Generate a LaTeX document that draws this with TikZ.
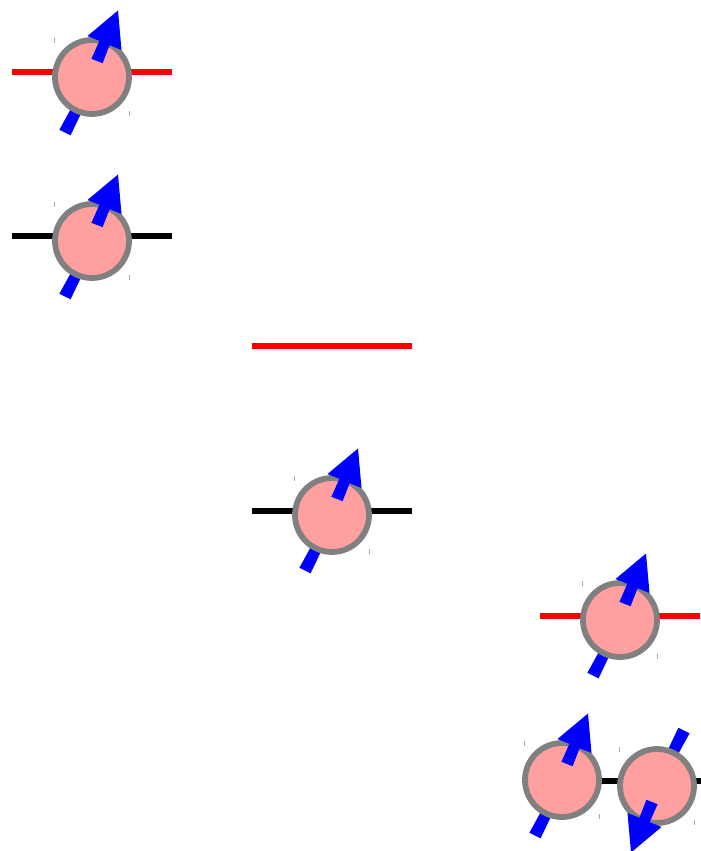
\documentclass[tikz,border=0pt]{standalone}
\definecolor{atomfill}{HTML}{FF9F9F}
\definecolor{tickgray}{HTML}{A8A8A8}
\tikzset{
  bond/.style={line width=5.6pt},
  redbond/.style={bond,red},
  blackbond/.style={bond,black},
  ball/.style={circle,draw=gray,fill=atomfill,line width=5.8pt,minimum size=74pt,inner sep=0pt,outer sep=0pt},
  spin/.style={fill=blue,draw=none},
  ticky/.style={draw=tickgray,line width=1pt}
}
% #1 name, #2 x, #3 y, #4 rotation of the spin
\newcommand{\atomdraw}[4]{%
  \begin{scope}[shift={(#2,#3)},rotate=#4]
    \fill[spin] (-32.6,52.7) -- (-21.4,58.3) -- (-11.4,37.3) -- (-21.6,32.7) -- cycle;
  \end{scope}
  \node[ball] (#1) at (#2,#3) {};
  \begin{scope}[shift={(#2,#3)},rotate=#4]
    \fill[spin] (-0.6,-18.2) -- (10.6,-13.8) -- (17.6,-31.8) -- (29.5,-27) -- (26,-66.5) -- (-4.5,-41) -- (7.4,-36.2) -- cycle;
  \end{scope}
  \begin{scope}[shift={(#2,#3)}]
    \draw[ticky] (-37.3,-39) -- (-37.3,-34);
    \draw[ticky] (37.3,33.5) -- (37.3,38.5);
  \end{scope}
}
\begin{document}
\begin{tikzpicture}[x=1pt,y=-1pt]
\useasboundingbox (0,0) rectangle (701,851);
\coordinate (l1) at (12,71.7);  \coordinate (r1) at (172,71.7);
\coordinate (l2) at (12,236.2);   \coordinate (r2) at (172,236.2);
\coordinate (l3) at (252,345.7);\coordinate (r3) at (412,345.7);
\coordinate (l4) at (252,510.7);\coordinate (r4) at (412,510.7);
\coordinate (l5) at (540,615.7);\coordinate (r5) at (700,615.7);
\coordinate (l6) at (600,780.7);\coordinate (r6) at (701,780.7);
\draw[redbond] (l1) -- (r1);
\draw[blackbond] (l2) -- (r2);
\draw[redbond] (l3) -- (r3);
\draw[blackbond] (l4) -- (r4);
\draw[redbond] (l5) -- (r5);
\draw[blackbond] (l6) -- (r6);
\atomdraw{a}{92}{77}{0}
\atomdraw{b}{92}{241}{0}
\atomdraw{c}{332}{515}{0}
\atomdraw{d}{620}{620}{0}
\atomdraw{e}{562}{780}{0}
\atomdraw{f}{657}{786}{180}
\end{tikzpicture}
\end{document}
